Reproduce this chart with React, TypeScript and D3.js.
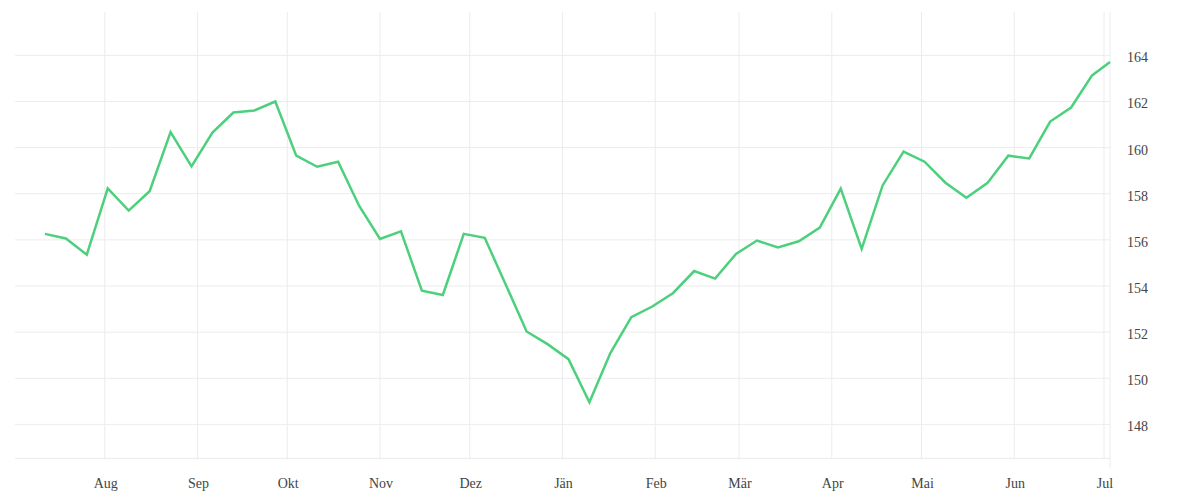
import * as d3 from "d3";
import { useEffect, useRef } from "react";

// Wochenkurse (Datum + Schlusskurs)
const dates = [
	"2022-07-12", "2022-07-19", "2022-07-26", "2022-08-02", "2022-08-09", "2022-08-16",
	"2022-08-23", "2022-08-30", "2022-09-06", "2022-09-13", "2022-09-20", "2022-09-27",
	"2022-10-04", "2022-10-11", "2022-10-18", "2022-10-25", "2022-11-01", "2022-11-08",
	"2022-11-15", "2022-11-22", "2022-11-29", "2022-12-06", "2022-12-13", "2022-12-20",
	"2022-12-27", "2023-01-03", "2023-01-10", "2023-01-17", "2023-01-24", "2023-01-31",
	"2023-02-07", "2023-02-14", "2023-02-21", "2023-02-28", "2023-03-07", "2023-03-14",
	"2023-03-21", "2023-03-28", "2023-04-04", "2023-04-11", "2023-04-18", "2023-04-25",
	"2023-05-02", "2023-05-09", "2023-05-16", "2023-05-23", "2023-05-30", "2023-06-06",
	"2023-06-13", "2023-06-20", "2023-06-27", "2023-07-03",
];

const prices = [
	156.26, 156.06, 155.36, 158.23, 157.27, 158.11, 160.67, 159.19, 160.65, 161.52,
	161.61, 162.0, 159.65, 159.17, 159.39, 157.48, 156.04, 156.37, 153.8, 153.61,
	156.26, 156.09, 154.07, 152.03, 151.48, 150.83, 148.96, 151.09, 152.65, 153.11,
	153.7, 154.65, 154.32, 155.39, 155.97, 155.67, 155.94, 156.53, 158.22, 155.61,
	158.36, 159.83, 159.39, 158.48, 157.83, 158.46, 159.65, 159.53, 161.13, 161.74,
	163.13, 163.71,
];

// Monatsnamen (österreichisch)
const monthLabels = ["Jän", "Feb", "Mär", "Apr", "Mai", "Jun", "Jul", "Aug", "Sep", "Okt", "Nov", "Dez"];
const yTicks = [148, 150, 152, 154, 156, 158, 160, 162, 164];

const xDomain = ["2022-07-02", "2023-07-03"];
const yDomain = [146.53, 165.88];

const WIDTH = 1200;
const HEIGHT = 500;

const App = () => {
	const svgRef = useRef<SVGSVGElement>(null);

	useEffect(() => {
		if (!svgRef.current) return;

		const parse = d3.utcParse("%Y-%m-%d");
		const data = dates.map((d, i) => ({ date: parse(d) as Date, value: prices[i] }));

		const plot = { left: 15, right: 1110, top: 12, bottom: 458.3 };

		const svg = d3.select(svgRef.current);
		svg.selectAll("*").remove();

		const x = d3
			.scaleUtc()
			.domain(xDomain.map((d) => parse(d) as Date))
			.range([plot.left, plot.right]);

		const y = d3.scaleLinear().domain(yDomain).range([plot.bottom, plot.top]);

		const gridColor = "#ececec";
		const textColor = "#444";
		const font = "'Liberation Serif', serif";

		// horizontale Gitterlinien
		svg
			.append("g")
			.selectAll("line")
			.data(yTicks)
			.enter()
			.append("line")
			.attr("x1", plot.left)
			.attr("x2", plot.right)
			.attr("y1", (d) => y(d))
			.attr("y2", (d) => y(d))
			.attr("stroke", gridColor)
			.attr("stroke-width", 1);

		// untere Linie
		svg
			.append("line")
			.attr("x1", plot.left)
			.attr("x2", plot.right)
			.attr("y1", plot.bottom)
			.attr("y2", plot.bottom)
			.attr("stroke", gridColor);

		// Monats-Ticks
		const months = x.ticks(d3.utcMonth.every(1)!).filter((d) => x(d) >= plot.left + 1);

		svg
			.append("g")
			.selectAll("line")
			.data(months)
			.enter()
			.append("line")
			.attr("x1", (d) => x(d))
			.attr("x2", (d) => x(d))
			.attr("y1", plot.top)
			.attr("y2", plot.bottom + 1)
			.attr("stroke", gridColor);

		// rechte Achsenlinie
		svg
			.append("line")
			.attr("x1", plot.right)
			.attr("x2", plot.right)
			.attr("y1", plot.top)
			.attr("y2", plot.bottom + 10)
			.attr("stroke", gridColor);

		svg
			.append("g")
			.selectAll("text")
			.data(months)
			.enter()
			.append("text")
			.attr("x", (d) => x(d) + 1)
			.attr("y", plot.bottom + 30)
			.attr("text-anchor", "middle")
			.style("font-family", font)
			.style("font-size", "14px")
			.attr("fill", textColor)
			.text((d) => monthLabels[d.getUTCMonth()]);

		// y-Beschriftung rechts
		svg
			.append("g")
			.selectAll("text")
			.data(yTicks)
			.enter()
			.append("text")
			.attr("x", plot.right + 17)
			.attr("y", (d) => y(d) + 7)
			.style("font-family", font)
			.style("font-size", "14px")
			.attr("fill", textColor)
			.text((d) => d);

		// Kurslinie
		const line = d3
			.line<{ date: Date; value: number }>()
			.x((d) => x(d.date))
			.y((d) => y(d.value));

		svg
			.append("path")
			.datum(data)
			.attr("d", line)
			.attr("fill", "none")
			.attr("stroke", "#4cd07d")
			.attr("stroke-width", 2.5)
			.attr("stroke-linejoin", "miter");
	}, []);

	return (
		<svg
			ref={svgRef}
			width={WIDTH}
			height={HEIGHT}
			style={{ position: "absolute", left: 0, top: 0, display: "block", background: "#fff" }}
		></svg>
	);
};

export default App;
